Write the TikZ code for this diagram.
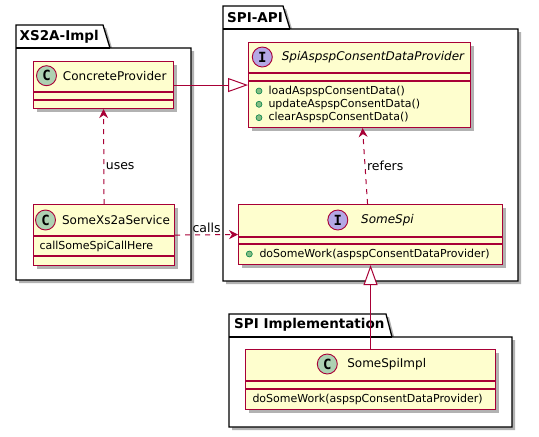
\documentclass[tikz,border=0pt]{standalone}
\usepackage{fontspec}
\setmainfont{DejaVu Sans}
\newfontfamily\iconfont{DejaVu Sans Mono}
\usetikzlibrary{arrows.meta,shadows}
\definecolor{umlred}{HTML}{A80036}
\definecolor{umlfill}{HTML}{FEFECE}
\definecolor{clsgreen}{HTML}{ADD1B2}
\definecolor{ifcpurple}{HTML}{B4A7E5}
\definecolor{pubfill}{HTML}{84BE84}
\definecolor{pubdraw}{HTML}{038048}
\begin{document}
\begin{tikzpicture}[x=1pt, y=-1pt,
        umlshadow/.style={drop shadow={shadow xshift=3pt, shadow yshift=-3pt, opacity=0.3, fill=black}},
        pkg/.style={draw=black, line width=1.3pt, fill=white, umlshadow},
        pkgtitle/.style={anchor=west, inner sep=0pt, font=\fontsize{13.5}{16}\selectfont\bfseries},
        cls/.style={rectangle, draw=umlred, line width=1.1pt, fill=umlfill, anchor=north west, inner sep=0pt, umlshadow},
        sep/.style={draw=umlred, line width=1.1pt},
        clsname/.style={inner sep=0pt, font=\fontsize{12}{14}\selectfont},
        ifcname/.style={clsname, font=\fontsize{12}{14}\selectfont\itshape},
        icon/.style={circle, draw=umlred, line width=0.9pt, minimum size=20pt, inner sep=0pt, font=\iconfont\fontsize{14}{14}\selectfont\bfseries},
        member/.style={anchor=west, inner sep=0pt, font=\fontsize{11}{13}\selectfont},
        pub/.style={draw=pubdraw, fill=pubfill, line width=0.6pt},
        lbl/.style={inner sep=1.5pt, font=\fontsize{12.5}{14}\selectfont},
        dep/.style={draw=umlred, line width=1pt, dash pattern=on 5pt off 5pt, -{Stealth[length=9pt, width=9pt, inset=3pt]}},
        real/.style={draw=umlred, line width=1pt, -{Triangle[open, length=20pt, width=14pt, fill=white]}}
    ]
    \useasboundingbox (0,0) rectangle (539,437);

    % packages
    \path[pkg] (16,48) -- (16,25) -- (103,25) -- (110,48) -- (191,48) -- (191,280) -- (16,280) -- cycle;
    \draw[black, line width=1.3pt] (16,48) -- (110,48);
    \node[pkgtitle] (xsimpl) at (19.5,36.5) {XS2A-Impl};

    \path[pkg] (223,29) -- (223,6) -- (283,6) -- (290,29) -- (518,29) -- (518,281) -- (223,281) -- cycle;
    \draw[black, line width=1.3pt] (223,29) -- (290,29);
    \node[pkgtitle] (spiapi) at (227,17.5) {SPI-API};

    \path[pkg] (229,337) -- (229,314) -- (386,314) -- (392,337) -- (512,337) -- (512,427) -- (229,427) -- cycle;
    \draw[black, line width=1.3pt] (229,337) -- (392,337);
    \node[pkgtitle] (spiimpl) at (234,325) {SPI Implementation};

    % ConcreteProvider
    \node[cls, minimum width=140pt, minimum height=47pt] (cp) at (33,61) {};
    \draw[sep] ([yshift=-31pt]cp.north west) -- ([yshift=-31pt]cp.north east);
    \draw[sep] ([yshift=-39pt]cp.north west) -- ([yshift=-39pt]cp.north east);
    \node[icon, fill=clsgreen] (cpicon) at (46.5,75.7) {C};
    \node[clsname] (cpname) at (114.7,76) {ConcreteProvider};

    % SomeXs2aService
    \node[cls, minimum width=141pt, minimum height=61pt] (svc) at (33,204) {};
    \draw[sep] ([yshift=-32pt]svc.north west) -- ([yshift=-32pt]svc.north east);
    \draw[sep] ([yshift=-52pt]svc.north west) -- ([yshift=-52pt]svc.north east);
    \node[icon, fill=clsgreen] (svcicon) at (45.5,220) {C};
    \node[clsname] (svcname) at (116,220) {SomeXs2aService};
    \node[member] (svcattr) at (39.3,246.5) {callSomeSpiCallHere};

    % SpiAspspConsentDataProvider
    \node[cls, minimum width=222pt, minimum height=85pt] (prov) at (248,42) {};
    \draw[sep] ([yshift=-31pt]prov.north west) -- ([yshift=-31pt]prov.north east);
    \draw[sep] ([yshift=-39pt]prov.north west) -- ([yshift=-39pt]prov.north east);
    \node[icon, fill=ifcpurple] (provicon) at (262.3,57) {I};
    \node[ifcname] (provname) at (373,57) {SpiAspspConsentDataProvider};
    \draw[pub] (259,91) circle[radius=3pt];
    \draw[pub] (259,104.3) circle[radius=3pt];
    \draw[pub] (259,117.7) circle[radius=3pt];
    \node[member] (load) at (268.3,91) {loadAspspConsentData()};
    \node[member] (update) at (268.3,104.3) {updateAspspConsentData()};
    \node[member] (clear) at (268.3,117.7) {clearAspspConsentData()};

    % SomeSpi
    \node[cls, minimum width=264pt, minimum height=60pt] (spi) at (238,204) {};
    \draw[sep] ([yshift=-33pt]spi.north west) -- ([yshift=-33pt]spi.north east);
    \draw[sep] ([yshift=-40pt]spi.north west) -- ([yshift=-40pt]spi.north east);
    \node[icon, fill=ifcpurple] (spiicon) at (337.8,220) {I};
    \node[ifcname] (spiname) at (387.5,220) {SomeSpi};
    \draw[pub] (249.3,254) circle[radius=3pt];
    \node[member] (spiwork) at (259.3,254) {doSomeWork(aspspConsentDataProvider)};

    % SomeSpiImpl
    \node[cls, minimum width=250pt, minimum height=60pt] (impl) at (245,349) {};
    \draw[sep] ([yshift=-32pt]impl.north west) -- ([yshift=-32pt]impl.north east);
    \draw[sep] ([yshift=-40pt]impl.north west) -- ([yshift=-40pt]impl.north east);
    \node[icon, fill=clsgreen] (implicon) at (327.3,364) {C};
    \node[clsname] (implname) at (386.7,364) {SomeSpiImpl};
    \node[member] (implwork) at (252.3,399) {doSomeWork(aspspConsentDataProvider)};

    % relations
    \draw[real] (cp.east) -- (prov.west);
    \draw[dep] (svc.north) -- (cp.south) node[lbl, right, pos=0.4] {uses};
    \draw[dep] (svc.east) -- (spi.west) node[lbl, above, midway] {calls};
    \draw[dep] ([xshift=-3pt]spi.north) -- ([xshift=3pt]prov.south) node[lbl, right, pos=0.5] {refers};
    \draw[real] (impl.north) -- (spi.south);
\end{tikzpicture}
\end{document}
